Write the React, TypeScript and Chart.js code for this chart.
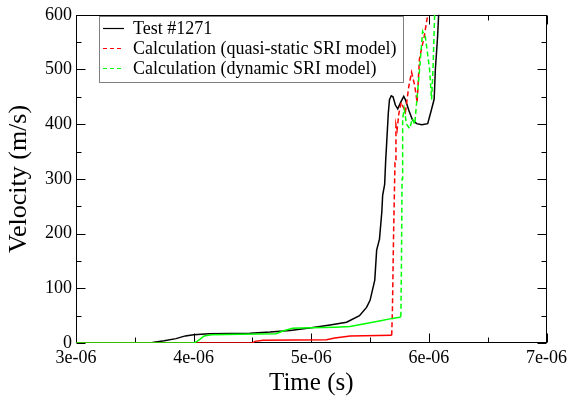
import React, { useEffect, useRef } from 'react';
import { Chart, registerables } from 'chart.js';

Chart.register(...registerables);

// Time values in microseconds (axis labelled in seconds: 3e-06 ... 7e-06)
const testTimeUs = [3.0, 3.3, 3.5, 3.65, 3.75, 3.85, 3.93, 4.0, 4.13, 4.3, 4.48, 4.65, 4.82, 5.0, 5.16, 5.3, 5.41, 5.47, 5.5, 5.54, 5.556, 5.58, 5.6, 5.607, 5.624, 5.633, 5.641, 5.655, 5.665, 5.68, 5.695, 5.715, 5.735, 5.76, 5.786, 5.8, 5.83, 5.86, 5.896, 5.94, 5.99, 6.02, 6.045, 6.055, 6.074, 6.085];
const testVel = [0, 0, 0.5, 1, 4, 8, 13, 15, 17, 17.5, 18, 20, 23, 28, 33, 38, 50, 65, 78, 115, 170, 190, 240, 270, 290, 335, 365, 420, 445, 452, 450, 435, 428, 440, 451, 445, 425, 408, 401, 399, 401, 425, 446, 500, 560, 610];

const quasiTimeUs = [3.0, 4.5, 4.52, 4.59, 5.13, 5.2, 5.33, 5.684, 5.69, 5.7, 5.712, 5.72, 5.73, 5.745, 5.765, 5.8, 5.83, 5.853, 5.88, 5.9, 5.92, 5.96, 5.99, 6.0];
const quasiVel = [0, 0, 3, 5, 6, 9, 13, 14, 60, 200, 330, 400, 390, 420, 440, 422, 470, 495, 470, 440, 520, 560, 600, 620];

const dynTimeUs = [3.0, 4.0, 4.03, 4.09, 4.15, 4.4, 4.7, 4.76, 4.84, 5.0, 5.2, 5.33, 5.42, 5.5, 5.6, 5.69, 5.75, 5.762, 5.767, 5.772, 5.777, 5.79, 5.81, 5.837, 5.86, 5.88, 5.896, 5.921, 5.947, 5.97, 6.006, 6.023, 6.035, 6.049, 6.06];
const dynVel = [0, 0, 3, 13, 15, 16, 17, 22, 27, 28, 29, 30, 34, 37, 41, 45, 47, 48, 150, 300, 410, 428, 400, 392, 410, 400, 440, 500, 570, 560, 500, 445, 500, 600, 620];

const seriesLabels = ['Test #1271', 'Calculation (quasi-static SRI model)', 'Calculation (dynamic SRI model)'];
const seriesColors = ['#000000', '#ff0000', '#00ff00'];

const xMajorTicks = [3, 4, 5, 6, 7];
const xTickLabels = ['3e-06', '4e-06', '5e-06', '6e-06', '7e-06'];
const xMinorTicks = [3.5, 4.5, 5.5, 6.5];
const yMajorTicks = [0, 100, 200, 300, 400, 500, 600];
const yTickLabels = ['0', '100', '200', '300', '400', '500', '600'];
const yMinorTicks = [50, 150, 250, 350, 450, 550];

const SERIF = '"Liberation Serif", "DejaVu Serif", serif';

const framePlugin = {
  id: 'frameTicks',
  beforeDatasetsDraw(chart: any) {
    const { ctx, chartArea } = chart;
    const { left, right, top, bottom } = chartArea;
    const xs = chart.scales.x;
    const ys = chart.scales.y;
    ctx.save();
    ctx.strokeStyle = '#000';
    ctx.lineWidth = 1;
    ctx.setLineDash([]);
    const L = Math.round(left) + 0.5;
    const R = Math.round(right) - 0.5;
    const T = Math.round(top) + 0.5;
    const B = Math.round(bottom) - 0.5;
    ctx.strokeRect(L, T, R - L, B - T);
    const drawX = (v: number, len: number) => {
      const px = Math.round(xs.getPixelForValue(v)) + 0.5;
      ctx.beginPath();
      ctx.moveTo(px, B);
      ctx.lineTo(px, B - len);
      ctx.moveTo(px, T);
      ctx.lineTo(px, T + len);
      ctx.stroke();
    };
    const drawY = (v: number, len: number) => {
      const py = Math.round(ys.getPixelForValue(v)) + 0.5;
      ctx.beginPath();
      ctx.moveTo(L, py);
      ctx.lineTo(L + len, py);
      ctx.moveTo(R, py);
      ctx.lineTo(R - len, py);
      ctx.stroke();
    };
    xMajorTicks.forEach((v) => drawX(v, 9));
    xMinorTicks.forEach((v) => drawX(v, 5));
    yMajorTicks.forEach((v) => drawY(v, 9));
    yMinorTicks.forEach((v) => drawY(v, 5));
    ctx.restore();
  },
  afterDatasetsDraw(chart: any) {
    const { ctx } = chart;
    ctx.save();
    // Legend box
    const bx = 99.5, by = 16.5, bw = 304, bh = 66;
    ctx.lineWidth = 1;
    ctx.fillStyle = '#fff';
    ctx.fillRect(bx, by, bw, bh);
    ctx.strokeStyle = '#808080';
    ctx.strokeRect(bx, by, bw, bh);
    ctx.font = `18px ${SERIF}`;
    ctx.textBaseline = 'middle';
    ctx.textAlign = 'left';
    seriesLabels.forEach((label, i) => {
      const y = 28 + i * 20 + 0.5;
      ctx.strokeStyle = seriesColors[i];
      ctx.lineWidth = 1.2;
      ctx.setLineDash(i === 0 ? [] : [4, 3]);
      ctx.beginPath();
      ctx.moveTo(103, y);
      ctx.lineTo(124, y);
      ctx.stroke();
      ctx.setLineDash([]);
      ctx.fillStyle = '#000';
      ctx.fillText(label, 133, y + 1);
    });
    ctx.restore();
  },
};

const steepDash = (dash: number[] | undefined) => (c: any) =>
  dash && Math.abs(c.p1.y - c.p0.y) > Math.abs(c.p1.x - c.p0.x) ? dash : undefined;

export default function App() {
  const canvasRef = useRef<HTMLCanvasElement | null>(null);

  useEffect(() => {
    if (!canvasRef.current) return;
    const series = [
      { t: testTimeUs, v: testVel, dash: undefined as number[] | undefined, order: 3 },
      { t: quasiTimeUs, v: quasiVel, dash: [5, 3], order: 2 },
      { t: dynTimeUs, v: dynVel, dash: [5, 3], order: 1 },
    ];
    const chart = new Chart(canvasRef.current, {
      type: 'scatter',
      data: {
        datasets: series.map((s, i) => ({
          label: seriesLabels[i],
          data: s.t.map((t, j) => ({ x: t, y: s.v[j] })),
          showLine: true,
          borderColor: seriesColors[i],
          backgroundColor: seriesColors[i],
          borderWidth: 1.5,
          pointRadius: 0,
          tension: 0,
          order: s.order,
          segment: { borderDash: steepDash(s.dash) },
        })),
      },
      options: {
        animation: false,
        responsive: false,
        devicePixelRatio: 1,
        layout: { padding: { left: 0, right: 24, top: 12, bottom: 0 } },
        plugins: { legend: { display: false }, tooltip: { enabled: false } },
        scales: {
          x: {
            type: 'linear',
            min: 3,
            max: 7,
            afterBuildTicks: (s: any) => {
              s.ticks = xMajorTicks.map((v) => ({ value: v }));
            },
            afterFit: (s: any) => {
              s.height = 55;
            },
            grid: { display: false, drawTicks: false },
            border: { display: false },
            ticks: {
              autoSkip: false,
              maxRotation: 0,
              padding: 4,
              color: '#000',
              font: { family: SERIF, size: 18 },
              callback: (v: any) => xTickLabels[xMajorTicks.indexOf(Number(v))] ?? '',
            },
            title: {
              display: true,
              text: 'Time (s)',
              color: '#000',
              font: { family: SERIF, size: 25 },
              padding: 0,
            },
          },
          y: {
            type: 'linear',
            min: 0,
            max: 600,
            afterBuildTicks: (s: any) => {
              s.ticks = yMajorTicks.map((v) => ({ value: v }));
            },
            afterFit: (s: any) => {
              s.width = 76;
            },
            grid: { display: false, drawTicks: false },
            border: { display: false },
            ticks: {
              autoSkip: false,
              padding: 4,
              color: '#000',
              font: { family: SERIF, size: 18 },
              callback: (v: any) => yTickLabels[yMajorTicks.indexOf(Number(v))] ?? '',
            },
            title: {
              display: true,
              text: 'Velocity (m/s)',
              color: '#000',
              font: { family: SERIF, size: 26 },
              padding: { top: 4, bottom: 0 },
            },
          },
        },
      },
      plugins: [framePlugin],
    } as any);
    return () => chart.destroy();
  }, []);

  return (
    <div style={{ position: 'absolute', left: 0, top: 0, width: 571, height: 398, background: '#fff' }}>
      <canvas ref={canvasRef} width={571} height={398} style={{ display: 'block' }} />
    </div>
  );
}
